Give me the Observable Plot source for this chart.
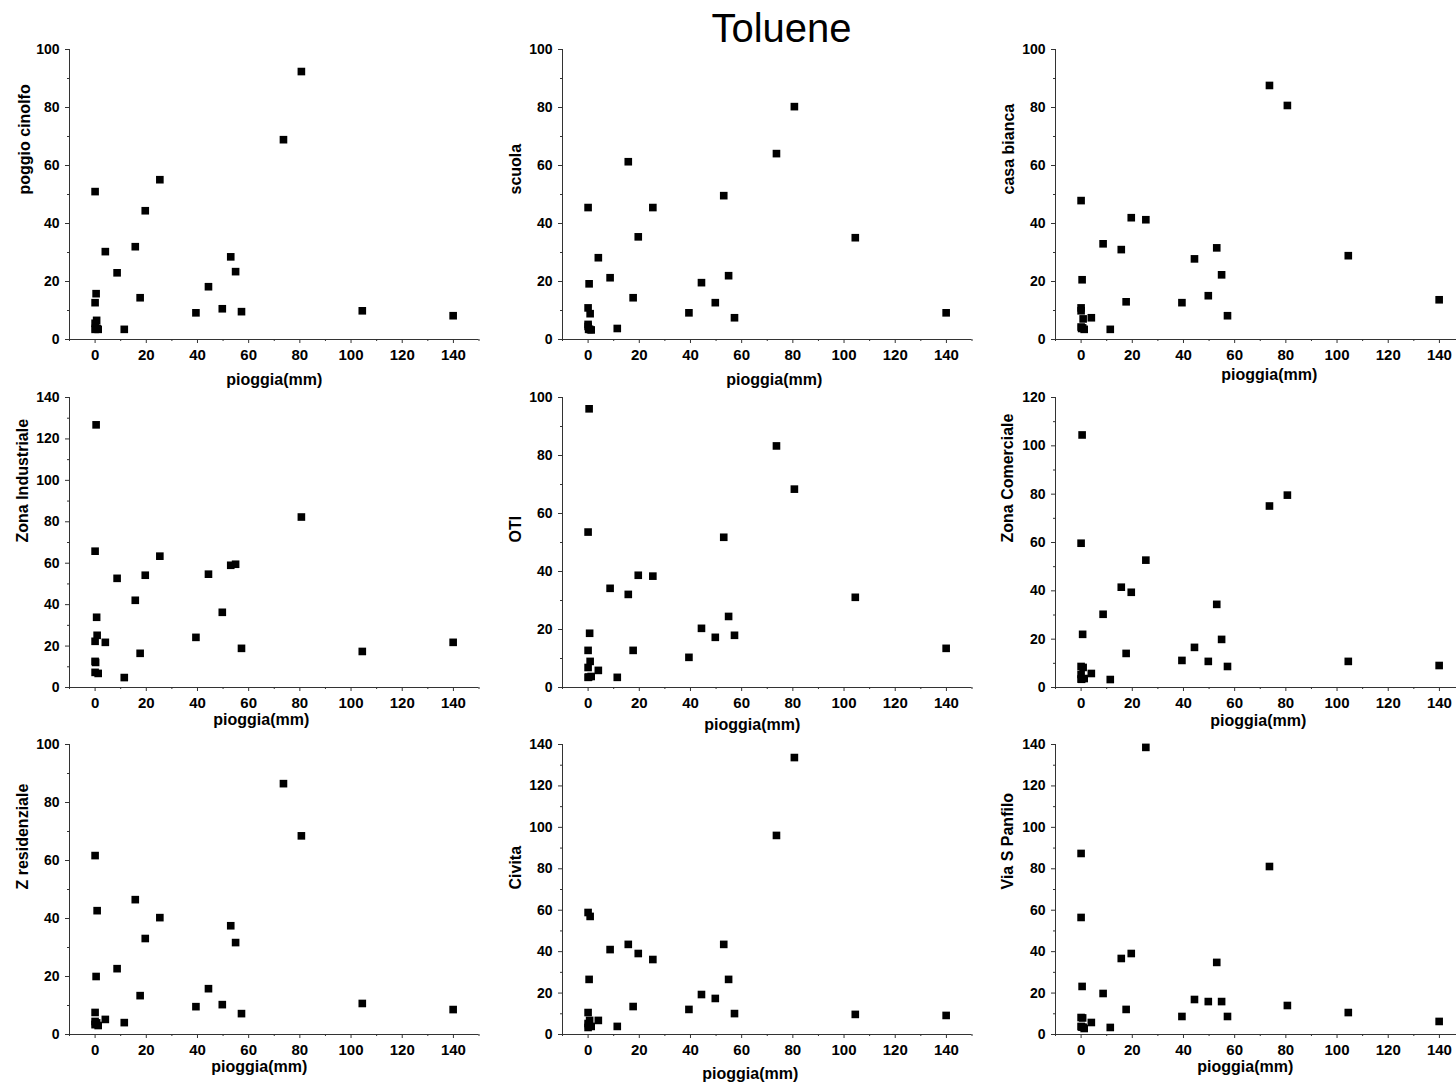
<!DOCTYPE html>
<html>
<head>
<meta charset="utf-8">
<script src="https://cdn.jsdelivr.net/npm/d3@7"></script>
<script src="https://cdn.jsdelivr.net/npm/@observablehq/plot@0.6"></script>
<style>
  html, body { margin: 0; padding: 0; background: #fff; }
  #stage { position: relative; width: 1456px; height: 1088px; overflow: hidden; background: #fff; }
  #title { position: absolute; top: 8px; left: 781.5px; transform: translateX(-50%);
           font-family: "Liberation Sans", Arial, sans-serif; font-size: 40px; line-height: 40px;
           font-weight: normal; color: #000; white-space: nowrap; }
  .panel { position: absolute; }
  .panel svg { max-width: none !important; }
</style>
</head>
<body>
<div id="stage">
  <div id="title">Toluene</div>
</div>
<script>
// ---- data ----
const title = "Toluene";
const xLabel = "pioggia(mm)";
const rain = [0, 0, 0, 0, 0.2, 0.4, 0.6, 0.8, 1.2, 4, 8.6, 11.4, 15.7, 17.6, 19.6, 25.3, 39.4, 44.3, 49.7, 53, 54.9, 57.2, 73.6, 80.6, 104.4, 139.9];
const stationNames = ["poggio cinolfo", "scuola", "casa bianca", "Zona Industriale", "OTI", "Zona Comerciale", "Z residenziale", "Civita", "Via S Panfilo"];
const poggioCinolfo   = [51.0, 12.7, 5.6, 3.5, 4.0, 15.8, 6.6, 3.8, 3.5, 30.3, 23.0, 3.5, 32.0, 14.4, 44.4, 55.1, 9.2, 18.2, 10.6, 28.5, 23.4, 9.6, 68.9, 92.4, 9.9, 8.2];
const scuola          = [45.5, 10.9, 5.2, 4.5, 3.5, 19.2, 3.5, 8.9, 3.3, 28.2, 21.3, 3.8, 61.3, 14.4, 35.4, 45.5, 9.2, 19.6, 12.7, 49.6, 22.0, 7.5, 64.1, 80.3, 35.1, 9.2];
const casaBianca      = [47.9, 10.9, 9.9, 4.3, 3.8, 20.6, 4.0, 7.1, 3.5, 7.5, 33.0, 3.5, 31.0, 13.0, 42.0, 41.3, 12.7, 27.8, 15.1, 31.6, 22.3, 8.2, 87.6, 80.7, 28.9, 13.7];
const zonaIndustriale = [65.8, 22.3, 12.6, 7.3, 12.1, 126.8, 33.9, 25.2, 6.8, 21.8, 52.7, 4.8, 42.1, 16.5, 54.2, 63.4, 24.2, 54.7, 36.3, 59.0, 59.5, 18.9, null, 82.3, 17.4, 21.8];
const oti             = [53.6, 12.8, 6.9, 3.5, 3.6, 96.1, 18.7, 9.0, 3.8, 5.9, 34.2, 3.5, 32.1, 12.8, 38.7, 38.4, 10.4, 20.4, 17.3, 51.8, 24.5, 18.0, 83.3, 68.4, 31.1, 13.5];
const zonaComerciale  = [59.7, 8.7, 5.4, 3.5, 3.4, 104.5, 22.0, 8.3, 3.7, 5.8, 30.3, 3.3, 41.5, 14.1, 39.4, 52.7, 11.2, 16.6, 10.8, 34.4, 19.9, 8.7, 75.1, 79.6, 10.8, 9.1];
const zResidenziale   = [61.7, 7.6, 4.5, 3.4, 3.8, 20.0, 4.0, 42.7, 3.1, 5.2, 22.7, 4.1, 46.5, 13.4, 33.1, 40.3, 9.6, 15.8, 10.3, 37.5, 31.7, 7.2, 86.5, 68.5, 10.7, 8.6];
const civita          = [58.9, 10.6, 5.3, 3.4, 4.5, 26.6, 6.8, 57.0, 3.9, 6.8, 41.0, 3.9, 43.5, 13.5, 39.1, 36.2, 12.1, 19.3, 17.4, 43.5, 26.6, 10.1, 96.1, 133.7, 9.7, 9.2];
const viaSPanfilo     = [87.4, 56.5, 8.2, 3.9, 3.6, 23.2, 8.0, 3.5, 2.9, 5.8, 19.8, 3.4, 36.7, 12.1, 39.1, 138.6, 8.7, 16.9, 15.9, 34.8, 15.9, 8.7, 81.1, 14.0, 10.6, 6.3];
const stationValues = [poggioCinolfo, scuola, casaBianca, zonaIndustriale, oti, zonaComerciale, zResidenziale, civita, viaSPanfilo];
const yMax = [100, 100, 100, 140, 100, 120, 100, 140, 140];
const xDomain = [-10, 150];
const xMajorTicks = [0, 20, 40, 60, 80, 100, 120, 140];
const xMinorTicks = [-10, 10, 30, 50, 70, 90, 110, 130, 150];

// ---- layout ----
const colAxisX = [68.5, 561.5, 1054.5];
const rowTop = [49, 397, 744];
const plotW = 409.5, plotH = 290;
const ML = 70, MR = 10, MT = 10, MB = 60;
// x-label offsets (dx, dy from plot bottom centre) per panel
const xLabelOff = [[0, 45], [7, 45], [9, 40], [-13, 37], [-15, 42], [-2, 38], [-15, 37], [-17, 44], [-15, 37]];
const yLabelDx = [-45, -47, -47, -47, -47, -48, -47, -47, -48];

document.getElementById("title").textContent = title;
const stage = document.getElementById("stage");
const FONT = "'Liberation Sans', Arial, Helvetica, sans-serif";

stationNames.forEach((name, i) => {
  const col = i % 3, row = Math.floor(i / 3);
  const vals = stationValues[i];
  const data = rain.map((r, k) => ({rain: r, value: vals[k]})).filter(d => d.value != null);
  const ymax = yMax[i];
  const yMajor = d3.range(0, ymax + 1, 20);
  const yMinor = d3.range(10, ymax, 20);
  const W = ML + plotW + MR, H = MT + plotH + MB;
  const svg = Plot.plot({
    width: W,
    height: H,
    marginLeft: ML, marginRight: MR, marginTop: MT, marginBottom: MB,
    style: {fontFamily: FONT, fontWeight: "bold", color: "#000", background: "transparent", overflow: "visible", maxWidth: "none"},
    x: {domain: xDomain},
    y: {domain: [0, ymax]},
    marks: [
      Plot.ruleY([0], {stroke: "#333", strokeWidth: 1}),
      Plot.ruleX([xDomain[0]], {stroke: "#333", strokeWidth: 1}),
      Plot.axisX({ticks: xMajorTicks, tickSize: 4, tickPadding: 6, fontSize: 15, fontWeight: "bold", stroke: "#333", label: null, tickFormat: d => String(d)}),
      Plot.axisX({ticks: xMinorTicks, tickSize: 2, tickPadding: 0, stroke: "#333", label: null, tickFormat: () => ""}),
      Plot.axisY({ticks: yMajor, tickSize: 4, tickPadding: 6, fontSize: 14, fontWeight: "bold", stroke: "#333", label: null, tickFormat: d => String(d)}),
      Plot.axisY({ticks: yMinor, tickSize: 2, tickPadding: 0, stroke: "#333", label: null, tickFormat: () => ""}),
      Plot.dot(data, {x: "rain", y: "value", symbol: "square", r: 4.3, fill: "#000", stroke: "none"}),
      Plot.text([xLabel], {text: d => d, frameAnchor: "bottom", dx: xLabelOff[i][0], dy: xLabelOff[i][1], fontSize: 16, fontWeight: "bold", fill: "#000"}),
      Plot.text([name], {text: d => d, frameAnchor: "left", rotate: -90, dx: yLabelDx[i], fontSize: 16, fontWeight: "bold", fill: "#000"})
    ]
  });
  svg.style.maxWidth = "none";
  svg.style.width = W + "px";
  svg.style.height = H + "px";
  const wrap = document.createElement("div");
  wrap.className = "panel";
  wrap.style.left = (colAxisX[col] - ML) + "px";
  wrap.style.top = (rowTop[row] - MT) + "px";
  wrap.style.width = W + "px";
  wrap.style.height = H + "px";
  wrap.appendChild(svg);
  stage.appendChild(wrap);
});
</script>
</body>
</html>
